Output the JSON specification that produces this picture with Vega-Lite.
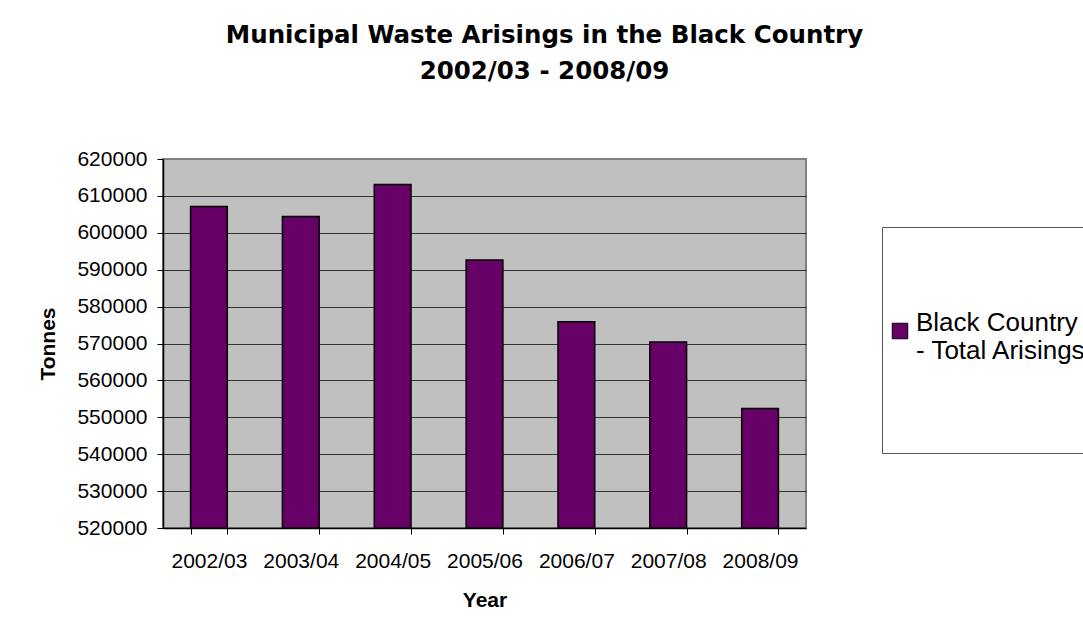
{
  "$schema": "https://vega.github.io/schema/vega-lite/v6.json",
  "width": 643,
  "height": 369,
  "autosize": "none",
  "padding": {"left": 163, "top": 159, "right": 277, "bottom": 114},
  "background": "white",
  "title": {
    "text": ["Municipal Waste Arisings in the Black Country", "2002/03 - 2008/09"],
    "font": "DejaVu Sans",
    "fontSize": 24.5,
    "fontWeight": "bold",
    "color": "black",
    "anchor": "middle",
    "frame": "group",
    "dx": 60,
    "offset": 64,
    "lineHeight": 35.5
  },
  "data": {
    "values": [
      {"year": "2002/03", "tonnes": 607100, "series": "Black Country - Total Arisings"},
      {"year": "2003/04", "tonnes": 604400, "series": "Black Country - Total Arisings"},
      {"year": "2004/05", "tonnes": 613100, "series": "Black Country - Total Arisings"},
      {"year": "2005/06", "tonnes": 592600, "series": "Black Country - Total Arisings"},
      {"year": "2006/07", "tonnes": 575900, "series": "Black Country - Total Arisings"},
      {"year": "2007/08", "tonnes": 570400, "series": "Black Country - Total Arisings"},
      {"year": "2008/09", "tonnes": 552400, "series": "Black Country - Total Arisings"}
    ]
  },
  "mark": {"type": "bar", "stroke": "black", "strokeWidth": 1.5, "opacity": 1},
  "encoding": {
    "x": {
      "field": "year",
      "type": "nominal",
      "sort": null,
      "scale": {"paddingInner": 0.6, "paddingOuter": 0.3},
      "axis": {
        "title": "Year",
        "titleFont": "Liberation Sans",
        "titleFontSize": 21,
        "titleFontWeight": "bold",
        "titleColor": "black",
        "titlePadding": 18,
        "labelFont": "Liberation Sans",
        "labelFontSize": 21,
        "labelColor": "black",
        "labelAngle": 0,
        "labelPadding": 16,
        "tickBand": "extent",
        "tickSize": 6,
        "tickColor": "black",
        "domainColor": "black",
        "domainWidth": 1.5,
        "grid": false
      }
    },
    "y": {
      "field": "tonnes",
      "type": "quantitative",
      "scale": {"domain": [520000, 620000], "zero": false, "nice": false},
      "axis": {
        "title": "Tonnes",
        "titleFont": "Liberation Sans",
        "titleFontSize": 21,
        "titleFontWeight": "bold",
        "titleColor": "black",
        "titlePadding": 18,
        "labelFont": "Liberation Sans",
        "labelFontSize": 21,
        "labelColor": "black",
        "labelPadding": 10,
        "values": [520000, 530000, 540000, 550000, 560000, 570000, 580000, 590000, 600000, 610000, 620000],
        "format": "d",
        "tickSize": 6,
        "tickColor": "black",
        "domainColor": "black",
        "domainWidth": 1.5,
        "grid": true,
        "gridColor": {"condition": {"test": "datum.value === 620000", "value": "#808080"}, "value": "#333333"},
        "gridWidth": 1.2
      }
    },
    "y2": {"datum": 520000},
    "color": {
      "field": "series",
      "type": "nominal",
      "scale": {"range": ["#660066"]},
      "legend": {
        "orient": "none",
        "legendX": 719,
        "legendY": 68,
        "title": " ",
        "titleFontSize": 10,
        "titlePadding": 76,
        "padding": 5,
        "strokeColor": "#555555",
        "fillColor": "white",
        "symbolType": "square",
        "symbolSize": 240,
        "symbolStrokeColor": "black",
        "symbolStrokeWidth": 1,
        "symbolOpacity": 1,
        "labelFont": "Liberation Sans",
        "labelFontSize": 26,
        "labelColor": "black",
        "labelBaseline": "alphabetic",
        "labelOffset": 3,
        "labelLimit": 600,
        "labelExpr": "['Black Country', '- Total Arisings', '', '', '']"
      }
    }
  },
  "config": {
    "view": {"fill": "#C0C0C0", "stroke": "#808080", "strokeWidth": 2}
  }
}
